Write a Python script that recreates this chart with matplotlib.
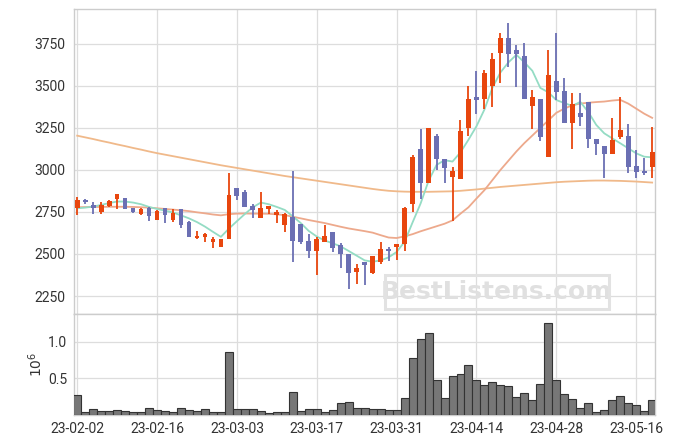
import matplotlib
matplotlib.use('Agg')
import matplotlib.pyplot as plt
from matplotlib.patches import FancyBboxPatch

plt.rcParams['font.family'] = ['Roboto', 'DejaVu Sans']

# daily candles
opens = [2772, 2820, 2792, 2752, 2788, 2827, 2832, 2772, 2737, 2772,
         2702, 2772, 2702, 2768, 2692, 2593, 2603, 2573, 2543, 2588,
         2891, 2867, 2786, 2717, 2768, 2732, 2673, 2718, 2679, 2577,
         2520, 2570, 2631, 2554, 2500, 2395, 2452, 2389, 2454, 2530,
         2543, 2558, 2796, 3125, 2921, 3202, 3063, 2960, 2945, 3252,
         3433, 3421, 3500, 3694, 3784, 3712, 3677, 3378, 3423, 3079,
         3532, 3468, 3282, 3337, 3403, 3183, 3145, 3093, 3194, 3202,
         3024, 2994, 3020]
highs = [2838, 2826, 2808, 2808, 2821, 2857, 2836, 2772, 2772, 2782,
         2762, 2772, 2766, 2768, 2695, 2637, 2627, 2599, 2589, 2980,
         2891, 2881, 2798, 2871, 2786, 2762, 2742, 2996, 2679, 2617,
         2603, 2673, 2631, 2564, 2500, 2439, 2452, 2490, 2570, 2540,
         2558, 2782, 3089, 3242, 3248, 3212, 3063, 3020, 3298, 3502,
         3591, 3595, 3694, 3813, 3873, 3741, 3754, 3476, 3423, 3714,
         3813, 3546, 3460, 3457, 3403, 3183, 3145, 3308, 3433, 3272,
         3119, 3069, 3258]
lows = [2732, 2796, 2737, 2737, 2778, 2768, 2768, 2742, 2730, 2698,
        2700, 2683, 2688, 2653, 2600, 2587, 2573, 2534, 2543, 2588,
        2821, 2782, 2712, 2717, 2738, 2686, 2633, 2454, 2558, 2474,
        2375, 2570, 2514, 2415, 2290, 2320, 2316, 2383, 2440, 2460,
        2464, 2515, 2748, 2826, 2921, 3000, 2925, 2695, 2945, 3202,
        3333, 3361, 3374, 3520, 3615, 3491, 3425, 3244, 3173, 3079,
        3417, 3280, 3123, 3262, 3129, 3089, 2950, 3093, 3183, 2984,
        2950, 2970, 2950]
closes = [2821, 2810, 2772, 2792, 2815, 2857, 2770, 2748, 2768, 2728,
          2758, 2732, 2746, 2673, 2603, 2609, 2619, 2589, 2589, 2851,
          2847, 2782, 2762, 2772, 2786, 2750, 2736, 2579, 2573, 2520,
          2587, 2607, 2538, 2500, 2389, 2419, 2437, 2488, 2528, 2520,
          2558, 2772, 3079, 2921, 3248, 3063, 3010, 2996, 3232, 3423,
          3417, 3575, 3663, 3784, 3688, 3688, 3425, 3433, 3198, 3565,
          3461, 3280, 3391, 3318, 3183, 3153, 3093, 3179, 3238, 3020,
          2990, 2980, 3105]

# moving averages as drawn on the chart
ma5 = [2772, 2776, 2782, 2792, 2803, 2812, 2812, 2806, 2796, 2780,
       2768, 2758, 2747, 2730, 2712, 2690, 2663, 2632, 2602, 2651,
       2695, 2738, 2778, 2806, 2796, 2780, 2762, 2724, 2684, 2637,
       2604, 2580, 2564, 2545, 2518, 2490, 2462, 2454, 2462, 2480,
       2512, 2573, 2688, 2800, 2935, 3030, 3058, 3050, 3105, 3180,
       3260, 3360, 3490, 3580, 3640, 3685, 3640, 3590, 3488, 3462,
       3416, 3398, 3381, 3405, 3345, 3268, 3218, 3188, 3159, 3129,
       3099, 3079, 3075]
ma20 = [2778, 2779, 2780, 2780, 2781, 2781, 2781, 2780, 2778, 2776,
        2772, 2768, 2764, 2760, 2755, 2748, 2742, 2735, 2730, 2737,
        2740, 2741, 2740, 2740, 2739, 2736, 2731, 2722, 2712, 2702,
        2693, 2684, 2673, 2662, 2652, 2644, 2636, 2627, 2612, 2598,
        2595, 2605, 2618, 2635, 2650, 2665, 2680, 2700, 2740, 2778,
        2830, 2880, 2940, 3000, 3055, 3110, 3160, 3205, 3250, 3295,
        3340, 3365, 3385, 3395, 3400, 3404, 3407, 3413, 3417, 3395,
        3365, 3335, 3310]
ma60 = [3204, 3194, 3184, 3173, 3163, 3152, 3142, 3131, 3121, 3110,
        3100, 3091, 3082, 3073, 3064, 3055, 3046, 3037, 3028, 3020,
        3012, 3004, 2996, 2988, 2980, 2972, 2964, 2957, 2950, 2943,
        2936, 2929, 2922, 2915, 2908, 2901, 2894, 2887, 2881, 2876,
        2873, 2871, 2870, 2870, 2870, 2871, 2872, 2873, 2876, 2880,
        2884, 2889, 2894, 2899, 2903, 2907, 2911, 2915, 2919, 2923,
        2927, 2930, 2932, 2934, 2936, 2937, 2937, 2936, 2935, 2933,
        2931, 2928, 2925]

# volume in millions
volume = [0.274, 0.040, 0.085, 0.058, 0.058, 0.072, 0.058, 0.045, 0.045, 0.099,
          0.072, 0.058, 0.045, 0.099, 0.072, 0.058, 0.085, 0.045, 0.045, 0.855,
          0.085, 0.085, 0.085, 0.058, 0.031, 0.045, 0.045, 0.315, 0.058, 0.085,
          0.085, 0.045, 0.072, 0.166, 0.180, 0.099, 0.099, 0.085, 0.085, 0.072,
          0.072, 0.234, 0.775, 1.045, 1.126, 0.477, 0.234, 0.531, 0.558, 0.680,
          0.477, 0.410, 0.450, 0.410, 0.396, 0.247, 0.300, 0.207, 0.423, 1.261,
          0.477, 0.288, 0.220, 0.099, 0.166, 0.045, 0.072, 0.207, 0.261, 0.166,
          0.140, 0.058, 0.207]

tick_labels = ['23-02-02', '23-02-16', '23-03-03', '23-03-17',
               '23-03-31', '23-04-14', '23-04-28', '23-05-16']

UP = '#e8460e'
DOWN = '#6b6fb3'
GRID = '#dddddd'
SPINE = '#cccccc'
TXT = '#333333'

fig = plt.figure(figsize=(6.75, 4.44), dpi=100)
ax = fig.add_axes([0.1096, 0.2928, 0.8607, 0.6863])
axv = fig.add_axes([0.1096, 0.0653, 0.8607, 0.2275], sharex=ax)

n = len(closes)
xs = list(range(n))
colors = [UP if c >= o else DOWN for o, c in zip(opens, closes)]

# moving averages behind the candles
ax.plot(xs, ma60, color='#f0b98a', lw=1.3, zorder=2)
ax.plot(xs, ma20, color='#eda98c', lw=1.3, zorder=2)
ax.plot(xs, ma5, color='#94dcc4', lw=1.3, zorder=2)

# candles
ax.vlines(xs, lows, highs, colors=colors, lw=1.3, zorder=3)
bottoms = [min(o, c) for o, c in zip(opens, closes)]
heights = [max(abs(c - o), 8) for o, c in zip(opens, closes)]
ax.bar(xs, heights, bottom=bottoms, width=0.6, color=colors, zorder=4)

ax.set_ylim(2143, 3956)
ax.set_yticks([2250, 2500, 2750, 3000, 3250, 3500, 3750])
ax.set_xlim(-0.4, 72.35)
ax.set_xticks(list(range(0, n, 10)))
ax.tick_params(axis='x', labelbottom=False, length=0)
ax.tick_params(axis='y', colors=TXT, labelsize=10, length=0, pad=6)
ax.grid(True, color=GRID, lw=0.9)
ax.set_axisbelow(True)

# watermark
ax.text(0.728, 0.072, 'BestListens.com', transform=ax.transAxes,
        ha='center', va='center', fontsize=18, fontweight='bold',
        family='DejaVu Sans', color='#e0e0e0', zorder=1)
ax.add_patch(FancyBboxPatch((0.535, 0.016), 0.386, 0.112, transform=ax.transAxes,
                            boxstyle='square,pad=0', fill=False,
                            ec='#e2e2e2', lw=2.2, zorder=1))

# volume
axv.bar(xs, volume, width=1.0, color='#777777', edgecolor='#333333', lw=0.8, zorder=3)
axv.set_ylim(0, 1.38)
axv.set_yticks([0.5, 1.0])
axv.set_yticklabels(['0.5', '1.0'])
axv.set_ylabel(r'$10^6$', color=TXT, fontsize=10, labelpad=2)
axv.set_xticks(list(range(0, n, 10)))
axv.set_xticklabels(tick_labels)
axv.tick_params(colors=TXT, labelsize=10, length=0, pad=5)
axv.grid(True, color=GRID, lw=0.9)
axv.set_axisbelow(True)

for a in (ax, axv):
    for s in a.spines.values():
        s.set_color(SPINE)
        s.set_linewidth(1.0)

fig.savefig('out.png', dpi=100)
